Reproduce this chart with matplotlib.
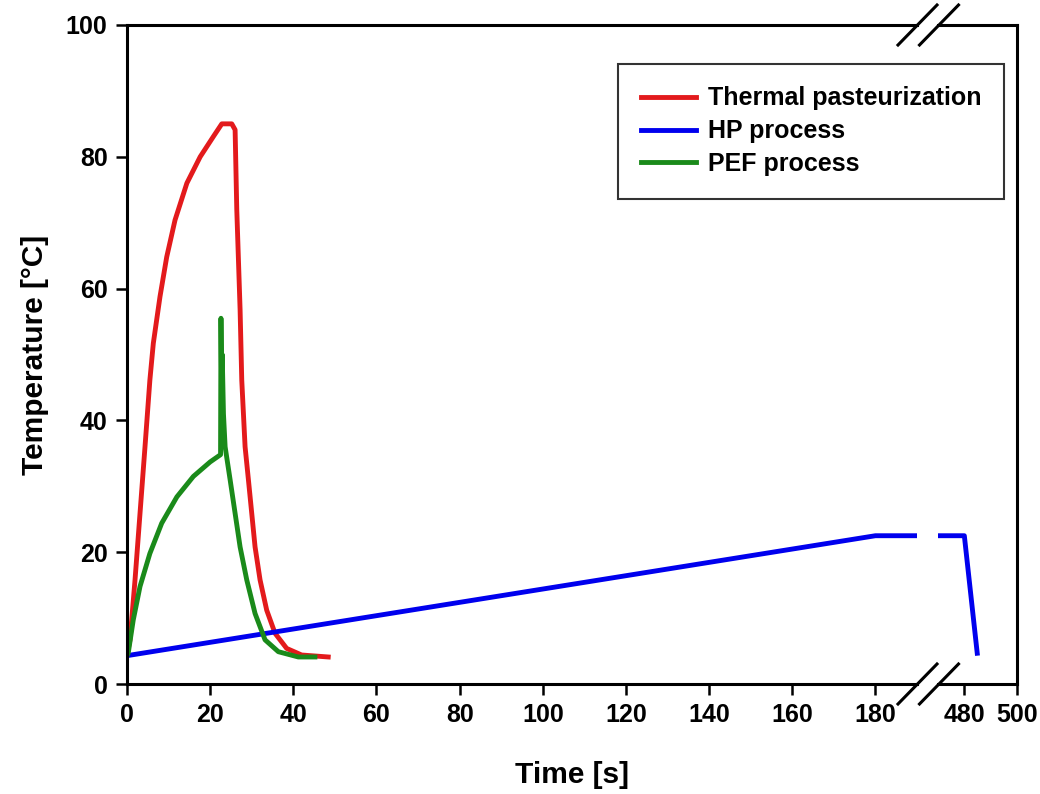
import matplotlib
matplotlib.use("Agg")
import matplotlib.pyplot as plt
from matplotlib.lines import Line2D

plt.rcParams['font.family'] = ['Liberation Sans', 'DejaVu Sans']
plt.rcParams['font.weight'] = 'bold'

# Thermal pasteurization
t_thermal = [0, 0.72, 1.93, 3.13, 4.33, 5.5, 6.33, 7.94, 9.55, 11.55, 14.4, 17.6, 20.8, 22.8,
             25.2, 26.0, 26.4, 27.2, 27.6, 28.4, 29.2, 30.0, 30.8, 32.0, 33.6, 35.6, 38.4,
             42.0, 48.4]
y_thermal = [4.4, 6.7, 15.8, 25.9, 36.0, 46.1, 51.7, 58.8, 64.8, 70.4, 76.0, 80.0, 83.1, 85.0,
             85.0, 84.1, 72.0, 56.8, 46.1, 36.0, 31.0, 25.9, 20.8, 15.8, 11.2, 7.7, 5.4,
             4.4, 4.1]

# PEF process
t_pef = [0, 0.3, 1.5, 3.13, 5.5, 8.35, 12.0, 15.96, 20.0, 22.5, 22.6, 22.8, 22.9, 23.2,
         23.6, 24.8, 26.0, 27.2, 28.8, 30.8, 33.2, 36.4, 41.2, 45.2]
y_pef = [4.3, 4.7, 9.7, 14.8, 19.8, 24.4, 28.4, 31.5, 33.7, 34.8, 55.5, 42.0, 50.0, 41.0,
         36.0, 31.0, 25.9, 20.8, 15.8, 10.7, 6.7, 4.9, 4.1, 4.1]

# HP process
t_hp = [0, 180, 190, 470, 480, 485]
y_hp = [4.3, 22.5, 22.5, 22.5, 22.5, 4.3]

xticks_left = [0, 20, 40, 60, 80, 100, 120, 140, 160, 180]
xticks_right = [480, 500]
yticks = [0, 20, 40, 60, 80, 100]

W, H = 1040, 794
fig = plt.figure(figsize=(W / 100, H / 100), dpi=100)
ax1 = fig.add_axes([127 / W, 1 - 684 / H, (917 - 127) / W, (684 - 25) / H])
ax2 = fig.add_axes([938 / W, 1 - 684 / H, (1017 - 938) / W, (684 - 25) / H])

lw = 3.5
for ax in (ax1, ax2):
    ax.plot(t_thermal, y_thermal, color='#e31a1c', lw=lw, solid_joinstyle='round')
    ax.plot(t_hp, y_hp, color='#0000ee', lw=lw, solid_capstyle='butt')
    ax.plot(t_pef, y_pef, color='#1a8a1a', lw=lw, solid_joinstyle='round')
    ax.set_ylim(0, 100)
    for s in ax.spines.values():
        s.set_linewidth(2.2)
    ax.tick_params(direction='out', length=8, width=1.8, labelsize=18, pad=6)

ax1.set_xlim(0, 190)
ax2.set_xlim(470, 500)
ax1.set_xticks(xticks_left)
ax2.set_xticks(xticks_right)
ax1.set_yticks(yticks)
ax2.set_yticks([])
ax1.spines['right'].set_visible(False)
ax2.spines['left'].set_visible(False)

ax1.set_ylabel('Temperature [°C]', fontsize=21.5, fontweight='bold', labelpad=12)
fig.text((127 + 1017) / 2 / W, 1 - 775 / H, 'Time [s]', fontsize=21.5, fontweight='bold',
         ha='center', va='center')

# axis break marks
for yc in (25, 684):
    for xc in (917.5, 939):
        fig.add_artist(Line2D([(xc - 19.5) / W, (xc + 19.5) / W],
                              [1 - (yc + 20) / H, 1 - (yc - 20) / H],
                              color='black', lw=2.2, transform=fig.transFigure))

handles = [Line2D([], [], color='#e31a1c', lw=lw),
           Line2D([], [], color='#0000ee', lw=lw),
           Line2D([], [], color='#1a8a1a', lw=lw)]
leg = fig.legend(handles, ['Thermal pasteurization', 'HP process', 'PEF process'],
                 loc='upper left', bbox_to_anchor=(618 / W, 1 - 64 / H),
                 fontsize=18, frameon=True, fancybox=False, edgecolor='black',
                 handlelength=2.2, handletextpad=0.5, labelspacing=0.35,
                 borderpad=0.9, borderaxespad=0)
leg.get_frame().set_linewidth(1.5)
for txt in leg.get_texts():
    txt.set_fontweight('bold')

fig.savefig('out.png', dpi=100)
